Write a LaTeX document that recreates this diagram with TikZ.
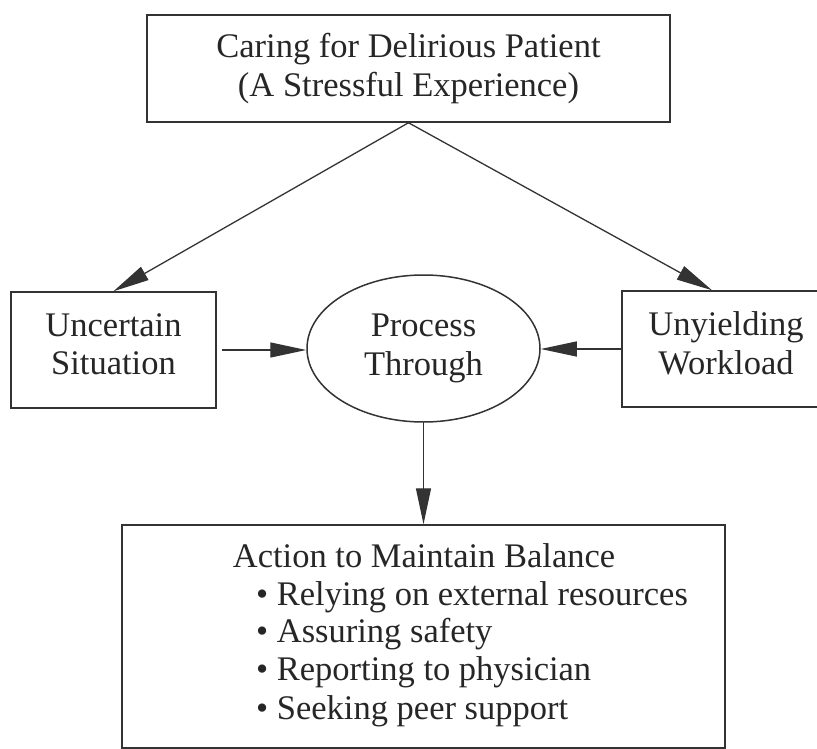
\documentclass[tikz,border=0pt]{standalone}
\usepackage{fontspec}
\setmainfont{Liberation Serif}
\usetikzlibrary{arrows.meta,shapes.geometric}
\tikzset{
  box/.style={draw=black!80, line width=1.5pt, rectangle, align=center, inner sep=0pt},
  oval/.style={draw=black!80, line width=1.5pt, ellipse, align=center, inner sep=0pt},
  item/.style={anchor=base west, inner sep=0pt},
  arr/.style={draw=black!80, line width=1.3pt, -{Triangle[length=36pt,width=15pt]}}
}
\begin{document}
\begin{tikzpicture}[x=1pt, y=-1pt, font=\fontsize{34.5pt}{38.5pt}\selectfont, text=black!85]
  \useasboundingbox (0,0) rectangle (817,749);
  \node[box, minimum width=523pt, minimum height=107pt] (stress) at (408.5,68.5)
    {Caring for Delirious Patient\\(A Stressful Experience)};
  \node[box, minimum width=205pt, minimum height=116pt] (uncertain) at (113.5,350)
    {Uncertain\\Situation\strut};
  \node[oval, minimum width=233pt, minimum height=147pt] (process) at (423.5,348.5)
    {Process\\Through};
  \node[box, minimum width=208pt, minimum height=116pt] (workload) at (726,349)
    {Unyielding\\Workload\strut};
  \node[box, minimum width=603pt, minimum height=223pt] (action) at (423.5,636.5) {};
  % contents of the bottom box
  \node[item] (balance) at (232.7,567) {Action to Maintain Balance};
  \node[item] (item1) at (256,605) {\textbullet\ Relying on external resources};
  \node[item] (item2) at (256,642) {\textbullet\ Assuring safety};
  \node[item] (item3) at (256,680) {\textbullet\ Reporting to physician};
  \node[item] (item4) at (256,719) {\textbullet\ Seeking peer support};
  % arrows
  \draw[arr] (stress.south) -- (uncertain.north);
  \draw[arr] (stress.south) -- ([xshift=-14pt]workload.north);
  \draw[arr, shorten <=5pt] (uncertain.east) -- (uncertain.east -| process.west);
  \draw[arr] (workload.west) -- (workload.west -| process.east);
  \draw[arr] (process.south) -- (process.south |- action.north);
\end{tikzpicture}
\end{document}
